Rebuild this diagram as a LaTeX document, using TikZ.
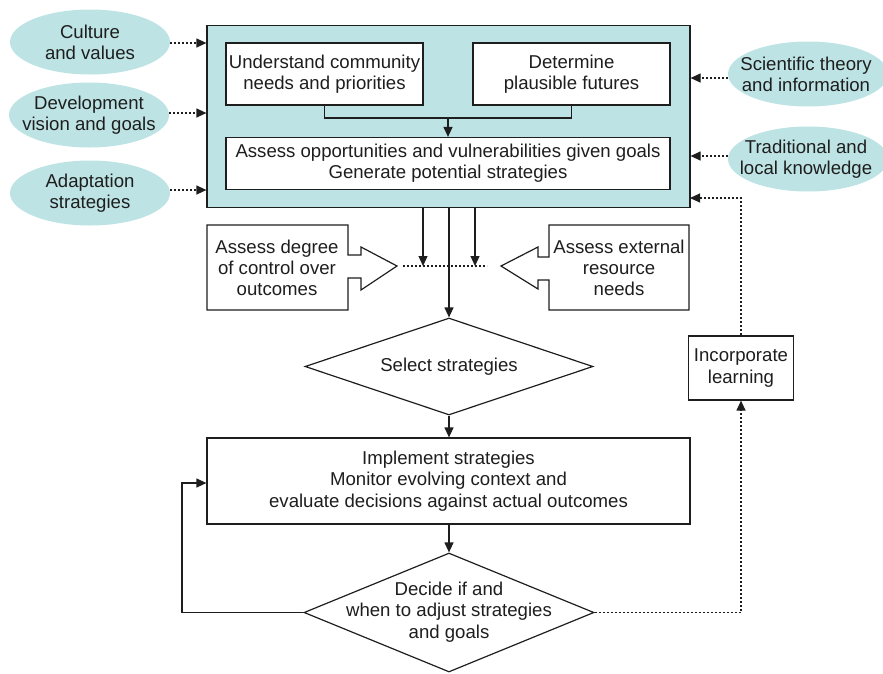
\documentclass[tikz,border=0pt]{standalone}
\usepackage{fontspec}
\setmainfont{Liberation Sans}
\usetikzlibrary{shapes.geometric,arrows.meta}
\definecolor{tealfill}{RGB}{189,227,228}
\definecolor{ink}{RGB}{30,30,30}
\begin{document}
\begin{tikzpicture}[x=1pt,y=-1pt,
  font=\fontsize{18.6}{21.3}\selectfont, text=ink,
  ln/.style={line width=1.2pt, draw=ink},
  arr/.style={ln, -{Triangle[length=10pt,width=9pt]}},
  dotarr/.style={arr, dash pattern=on 2pt off 2pt},
  box/.style={ln, fill=white, align=center, inner sep=0pt},
  ell/.style={ellipse, fill=tealfill, inner sep=0pt, minimum width=160pt, minimum height=65pt},
  dia/.style={diamond, ln, fill=white, inner sep=0pt},
  txt/.style={align=center, inner sep=0pt}]
\useasboundingbox (0,0) rectangle (883,673);

% big teal box
\node[ln, fill=tealfill, minimum width=483pt, minimum height=182pt, inner sep=0pt] (big) at (448.5,116.5) {};
\node[box, minimum width=197pt, minimum height=62pt] (b1) at (324.5,74) {Understand community\\needs and priorities};
\node[box, minimum width=197pt, minimum height=62pt] (b2) at (571.5,74) {Determine\\plausible futures};
\node[box, minimum width=444pt, minimum height=52pt] (b3) at (448,163.5) {Assess opportunities and vulnerabilities given goals\\Generate potential strategies};
\coordinate (join) at (448,118);
\draw[ln] (b1.south) |- (join) -| (b2.south);
\draw[arr] (join) -- (b3.north);

% ellipses
\node[ell] (e1) at (90,42) {};
\node[txt] (e1t) at (e1) {Culture\\and values};
\node[ell] (e2) at (89,115) {};
\node[txt] (e2t) at (e2) {Development\\vision and goals};
\node[ell] (e3) at (90,193) {};
\node[txt] (e3t) at (e3) {Adaptation\\strategies};
\node[ell, minimum width=160pt] (e4) at (808,74) {};
\node[txt] (e4t) at (806,74) {Scientific theory\\and information};
\node[ell, minimum width=160pt] (e5) at (808,159) {};
\node[txt] (e5t) at (806,159) {Traditional and\\local knowledge};
\draw[dotarr] (e1.east |- 0,43) -- (big.west |- 0,43);
\draw[dotarr] (e2.east |- 0,113) -- (big.west |- 0,113);
\draw[dotarr] (e3.east |- 0,190) -- (big.west |- 0,190);
\draw[dotarr] (e4.west |- 0,78) -- (big.east |- 0,78);
\draw[dotarr] (e5.west |- 0,156) -- (big.east |- 0,156);

% arrow-shaped boxes
\draw[ln, fill=white] (207,225) -- (348,225) -- (348,255) -- (361,255) -- (361,247) -- (397,266) -- (361,290) -- (361,278) -- (348,278) -- (348,310) -- (207,310) -- cycle;
\node[txt] (ctl) at (277,268) {Assess degree\\of control over\\outcomes};
\draw[ln, fill=white] (689,225) -- (549,225) -- (549,257) -- (538,257) -- (538,247) -- (501,266) -- (538,289) -- (538,280) -- (549,280) -- (549,310) -- (689,310) -- cycle;
\node[txt] (res) at (619,268) {Assess external\\resource\\needs};
\coordinate (dl) at (403,266);
\coordinate (dr) at (487,266);
\draw[ln, dash pattern=on 2pt off 2pt] (dl) -- (dr);
\draw[arr] (big.south -| 423,0) -- (423,266);
\draw[arr] (big.south -| 475,0) -- (475,266);

% select strategies
\node[dia, minimum width=288pt, minimum height=97pt] (d1) at (449,366.5) {};
\node[txt] (d1t) at (d1) {Select strategies};
\draw[arr] (big.south -| d1.north) -- (d1.north);

% implement
\node[box, minimum width=483pt, minimum height=86pt] (impl) at (448.5,481) {Implement strategies\\Monitor evolving context and\\evaluate decisions against actual outcomes};
\draw[arr] (d1.south) -- (impl.north -| d1.south);

% decide
\node[dia, minimum width=290pt, minimum height=119pt] (d2) at (449,612.5) {};
\node[txt] (d2t) at (449,612) {Decide if and\\when to adjust strategies\\and goals};
\draw[arr] (impl.south -| d2.north) -- (d2.north);
\coordinate (fb) at (182,483);
\draw[arr] (d2.west) -| (fb) -- (fb -| impl.west);

% incorporate learning
\node[box, minimum width=105pt, minimum height=64pt] (il) at (741,368) {Incorporate\\learning};
\draw[dotarr] (d2.east) -| (il.south);
\coordinate (ilr) at (690,198);
\draw[dotarr] (il.north) |- (ilr);
\end{tikzpicture}
\end{document}
